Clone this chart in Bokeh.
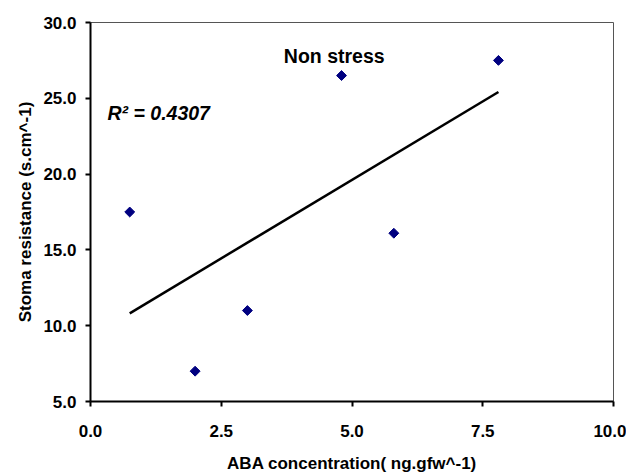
import numpy as np
from bokeh.plotting import figure
from bokeh.models import FixedTicker, CustomJSTickFormatter, Range1d
from bokeh.core.properties import value
from bokeh.embed import file_html
from bokeh.resources import INLINE

aba = [0.75, 2.0, 3.0, 4.8, 5.8, 7.8]
resistance = [17.5, 7.0, 11.0, 26.5, 16.1, 27.5]
x_ticks = [0.0, 2.5, 5.0, 7.5, 10.0]
y_ticks = [5.0, 10.0, 15.0, 20.0, 25.0, 30.0]
title_text = "Non stress"
r2_text = "R\u00b2 = 0.4307"

FONT = "Liberation Sans"

p = figure(frame_width=523, frame_height=379, min_border_left=90, min_border_top=22,
           min_border_right=13, min_border_bottom=71,
           output_backend="svg", toolbar_location=None,
           x_range=Range1d(0, 10), y_range=Range1d(5, 30))
p.xgrid.visible = False
p.ygrid.visible = False
p.outline_line_color = "#555555"
p.outline_line_width = 1
p.background_fill_color = "white"
p.border_fill_color = "white"

for ax, ticks in ((p.xaxis[0], x_ticks), (p.yaxis[0], y_ticks)):
    ax.ticker = FixedTicker(ticks=ticks)
    ax.formatter = CustomJSTickFormatter(code="return tick.toFixed(1);")
    ax.axis_line_color = "black"
    ax.axis_line_width = 2
    ax.major_tick_line_color = "black"
    ax.major_tick_line_width = 2
    ax.major_tick_out = 5
    ax.major_tick_in = 0
    ax.minor_tick_line_color = None
    ax.major_label_text_font = FONT
    ax.major_label_text_font_style = "bold"
    ax.major_label_text_font_size = "17px"
    ax.major_label_text_color = "black"
    ax.axis_label_text_font = FONT
    ax.axis_label_text_font_style = "bold"
    ax.axis_label_text_font_size = "17px"
    ax.axis_label_text_color = "black"

p.xaxis.axis_label = "ABA concentration( ng.gfw^-1)"
p.yaxis.axis_label = "Stoma resistance (s.cm^-1)"
p.xaxis.major_label_standoff = 18
p.xaxis.axis_label_standoff = 14
p.yaxis.major_label_standoff = 9
p.yaxis.axis_label_standoff = 5

# trend line (least squares)
slope, intercept = np.polyfit(aba, resistance, 1)
xs = [min(aba), max(aba)]
ys = [slope * v + intercept for v in xs]
p.line(xs, ys, line_color="black", line_width=2.5)

p.scatter(aba, resistance, marker="square", angle=np.pi / 4, size=7,
          fill_color="#000080", line_color="#000080")

p.text(x=[4.66], y=[27.82], text=[title_text], text_font=value(FONT),
       text_font_style="bold", text_font_size="19.5px", text_align="center",
       text_baseline="middle", text_color="black")
p.text(x=[0.325], y=[24.0], text=[r2_text], text_font=value(FONT),
       text_font_style="bold italic", text_font_size="19.5px", text_align="left",
       text_baseline="middle", text_color="black")

open("out.html", "w").write(file_html(p, INLINE))
